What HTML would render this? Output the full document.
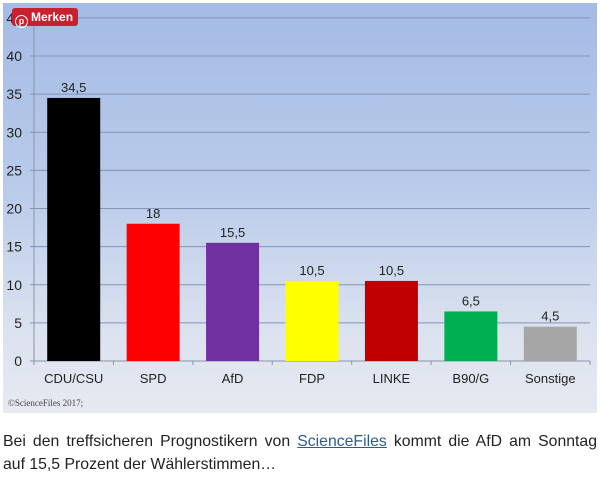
<!DOCTYPE html>
<html><head><meta charset="utf-8"><style>
body{margin:0;width:600px;height:478px;background:#fff;overflow:hidden;font-family:"Liberation Sans",sans-serif}
#chart{position:absolute;left:3px;top:3px;width:594px;height:410px;background:linear-gradient(#a4bbe5 0%,#b9cbea 45%,#dbe2ef 80%,#e6e9f0 100%)}
#cap{position:absolute;left:3px;top:430px;width:594px;font-size:15.8px;line-height:23px;color:#222}
#cap .l1{text-align:justify;text-align-last:justify}
#cap a{color:#2a5c9a;text-decoration:underline}
#merken{position:absolute;left:9px;top:5px;padding:0 5px 0 2px;height:18px;background:#c8202e;border-radius:3px;color:#fff;font-weight:bold;font-size:12px;line-height:18px;white-space:nowrap}
</style></head><body>
<div id="chart">
<svg id="svg" width="594" height="410" style="position:absolute;left:0;top:0"></svg>
<div id="merken"><span style="display:inline-block;width:11px;height:11px;border:1.5px solid #fff;border-radius:50%;margin:0 3px 0 1px;vertical-align:-3px;font-size:9px;line-height:11px;text-align:center">p</span>Merken</div>
</div>
<div id="cap"><div class="l1">Bei den treffsicheren Prognostikern von <a href="#">ScienceFiles</a> kommt die AfD am Sonntag</div><div>auf 15,5 Prozent der Wählerstimmen…</div></div>
<script>
const categories=["CDU/CSU","SPD","AfD","FDP","LINKE","B90/G","Sonstige"];
const values=[34.5,18,15.5,10.5,10.5,6.5,4.5];
const labels=["34,5","18","15,5","10,5","10,5","6,5","4,5"];
const colors=["#000000","#ff0000","#7030a0","#ffff00","#c00000","#00b050","#a6a6a6"];
const ticks=[0,5,10,15,20,25,30,35,40,45];
const NS="http://www.w3.org/2000/svg";
const svg=document.getElementById('svg');
const x0=31,x1=587,yZero=358,pxPer=7.625;
const y=v=>yZero-v*pxPer;
const cw=(x1-x0)/categories.length;
const xc=i=>x0+cw*(i+0.5);
function mk(t,a,txt){const e=document.createElementNS(NS,t);for(const k in a)e.setAttribute(k,a[k]);if(txt!=null)e.textContent=txt;svg.appendChild(e);return e;}
ticks.forEach(t=>{
 const l=mk('line',{x1:x0-4,x2:x1,y1:y(t),y2:y(t),stroke:t==0?'#8a94a8':'#8593b4','stroke-width':1});
 
 
 const tx=mk('text',{x:x0-12,y:y(t)+5,'text-anchor':'end','font-size':14,fill:'#222','font-family':'Liberation Sans'},t);
 
 
});
const ax=mk('line',{x1:x0,x2:x0,y1:y(45)-2,y2:yZero+4,stroke:'#8a94a8'});


categories.forEach((c,i)=>{
 const tk=mk('line',{x1:x0+cw*(i+1),x2:x0+cw*(i+1),y1:yZero,y2:yZero+4,stroke:'#8a94a8'});
 
 
 const bw=53;
 const r=mk('rect',{x:xc(i)-bw/2,y:y(values[i]),width:bw,height:yZero-y(values[i]),fill:colors[i]});
 
 
 const v=mk('text',{x:xc(i),y:y(values[i])-6,'text-anchor':'middle','font-size':13,fill:'#222','font-family':'Liberation Sans'},labels[i]);
 
 
 const cl=mk('text',{x:xc(i),y:yZero+22,'text-anchor':'middle','font-size':13,fill:'#222','font-family':'Liberation Sans'},c);
 
 
});
const cp=mk('text',{x:5,y:403,'font-size':9,fill:'#444','font-family':'Liberation Serif'},'©ScienceFiles 2017;');


</script>
</body></html>
